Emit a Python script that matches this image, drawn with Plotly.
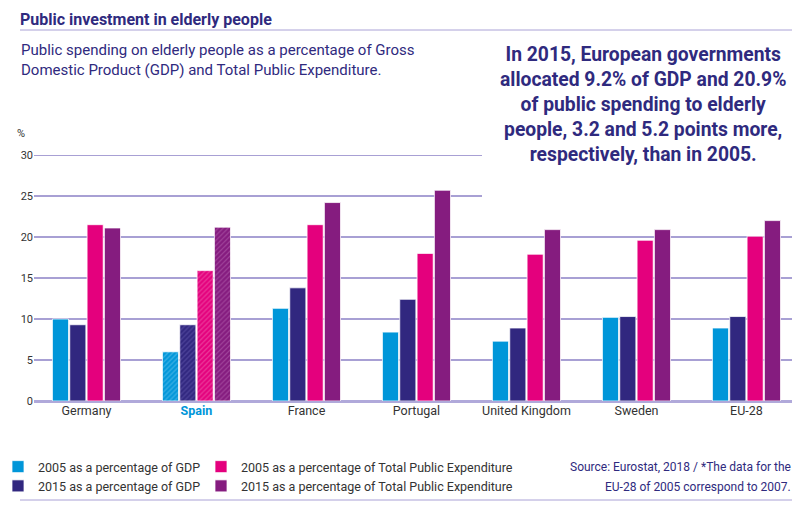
import plotly.graph_objects as go

categories = ["Germany", "Spain", "France", "Portugal", "United Kingdom", "Sweden", "EU-28"]
gdp_2005 = [10.0, 6.0, 11.3, 8.4, 7.3, 10.2, 8.9]
gdp_2015 = [9.3, 9.3, 13.8, 12.4, 8.9, 10.3, 10.3]
tpe_2005 = [21.5, 15.9, 21.5, 18.0, 17.9, 19.6, 20.1]
tpe_2015 = [21.1, 21.2, 24.2, 25.7, 20.9, 20.9, 22.0]
y_ticks = [0, 5, 10, 15, 20, 25, 30]
highlight = "Spain"

series_names = [
    "2005 as a percentage of GDP",
    "2015 as a percentage of GDP",
    "2005 as a percentage of Total Public Expenditure",
    "2015 as a percentage of Total Public Expenditure",
]
series_values = [gdp_2005, gdp_2015, tpe_2005, tpe_2015]
colors = ["#0096d9", "#31277f", "#e4007d", "#851c7f"]
hatch_colors = ["#7fcdf0", "#6d63b8", "#f27ab9", "#b868b3"]
legend_ids = ["legend", "legend", "legend2", "legend2"]

# page body has an 8px margin: the figure is drawn at (8, 8)
OFF = 8
W, H = 800 - OFF, 508 - OFF
# plot area in window pixel coordinates
X0, X1, Y0, Y1 = 34, 793, 155, 401
L, R, T, B = X0 - OFF, W - (X1 - OFF), Y0 - OFF, H - (Y1 - OFF)
PW, PH = X1 - X0, Y1 - Y0


def px(x):
    return (x - X0) / PW


def py(y):
    return (Y1 - y) / PH


INDIGO = "#2f2a7e"
TEXT = "#333333"
GRID = "#8b80c6"
FONT = "Roboto"

fig = go.Figure()
for name, vals, col, hcol, lg in zip(series_names, series_values, colors, hatch_colors, legend_ids):
    shapes = ["/" if c == highlight else "" for c in categories]
    fig.add_trace(go.Bar(
        x=categories, y=vals, name=name, legend=lg,
        marker=dict(color=col,
                    line=dict(color="rgba(255,255,255,0.75)", width=1),
                    pattern=dict(shape=shapes, fgcolor=hcol, size=3.5, solidity=0.35)),
    ))

tick_text = [f"<b><span style='color:#0096d9'>{c}</span></b>" if c == highlight else c for c in categories]

shapes = []
for v in y_ticks[1:]:
    x_end = 1.0 if v < 25 else px(482)
    shapes.append(dict(type="line", xref="paper", yref="y", x0=0, x1=x_end, y0=v, y1=v,
                       line=dict(color=GRID, width=1.3), layer="below"))
shapes.append(dict(type="line", xref="paper", yref="paper", x0=px(20), x1=1.0, y0=py(30), y1=py(30),
                   line=dict(color="#aaa2d6", width=1)))
shapes.append(dict(type="line", xref="paper", yref="paper", x0=px(20), x1=1.0, y0=py(500), y1=py(500),
                   line=dict(color="#aaa2d6", width=1)))

annotations = [
    dict(text="<b>Public investment in elderly people</b>", x=px(19), y=py(9), xref="paper", yref="paper",
         xanchor="left", yanchor="top", showarrow=False, borderpad=0,
         font=dict(family=FONT, size=16, color=INDIGO)),
    dict(text="Public spending on elderly people as a percentage of Gross<br>Domestic Product (GDP) and Total Public Expenditure.",
         x=px(19), y=py(39), xref="paper", yref="paper", xanchor="left", yanchor="top", align="left",
         showarrow=False, font=dict(family=FONT, size=15, color=INDIGO)),
    dict(text="<b>In 2015, European governments<br>allocated 9.2% of GDP and 20.9%<br>of public spending to elderly<br>people, 3.2 and 5.2 points more,<br>respectively, than in 2005.</b>",
         x=px(643), y=py(41), xref="paper", yref="paper", xanchor="center", yanchor="top", align="center",
         showarrow=False, font=dict(family=FONT, size=19.3, color=INDIGO)),
    dict(text="%", x=px(21), y=py(134), xref="paper", yref="paper", xanchor="center", yanchor="middle",
         showarrow=False, font=dict(family=FONT, size=11, color=TEXT)),
    dict(text="Source: Eurostat, 2018 / *The data for the",
         x=1.0, y=py(467), xref="paper", yref="paper", xanchor="right", yanchor="middle",
         showarrow=False, font=dict(family=FONT, size=12, color=INDIGO)),
    dict(text="EU-28 of 2005 correspond to 2007.",
         x=1.0, y=py(487), xref="paper", yref="paper", xanchor="right", yanchor="middle",
         showarrow=False, font=dict(family=FONT, size=12, color=INDIGO)),
]

fig.update_layout(
    width=W, height=H,
    margin=dict(l=L, r=R, t=T, b=B, pad=0, autoexpand=False),
    paper_bgcolor="white", plot_bgcolor="white",
    barmode="group", bargap=0.37, bargroupgap=0.07,
    font=dict(family=FONT, color=TEXT),
    shapes=shapes, annotations=annotations,
    xaxis=dict(tickmode="array", tickvals=categories, ticktext=tick_text, range=[-0.477, 6.423],
               showgrid=False, showline=False, ticks="", automargin=False,
               tickfont=dict(size=12.5, color=TEXT)),
    yaxis=dict(range=[0, 30], tickvals=y_ticks, showgrid=False, zeroline=True, zerolinecolor="#b0a9da",
               zerolinewidth=2.5, showline=False, ticks="", automargin=False,
               tickfont=dict(size=11, color=TEXT)),
    legend=dict(x=px(-2), y=py(452), xanchor="left", yanchor="top", orientation="v",
                font=dict(family=FONT, size=12.5, color=TEXT), tracegroupgap=0, itemwidth=30,
                bgcolor="rgba(0,0,0,0)"),
    legend2=dict(x=px(201), y=py(452), xanchor="left", yanchor="top", orientation="v",
                 font=dict(family=FONT, size=12.5, color=TEXT), tracegroupgap=0, itemwidth=30,
                 bgcolor="rgba(0,0,0,0)"),
    showlegend=True,
)

fig.write_html("out.html")
